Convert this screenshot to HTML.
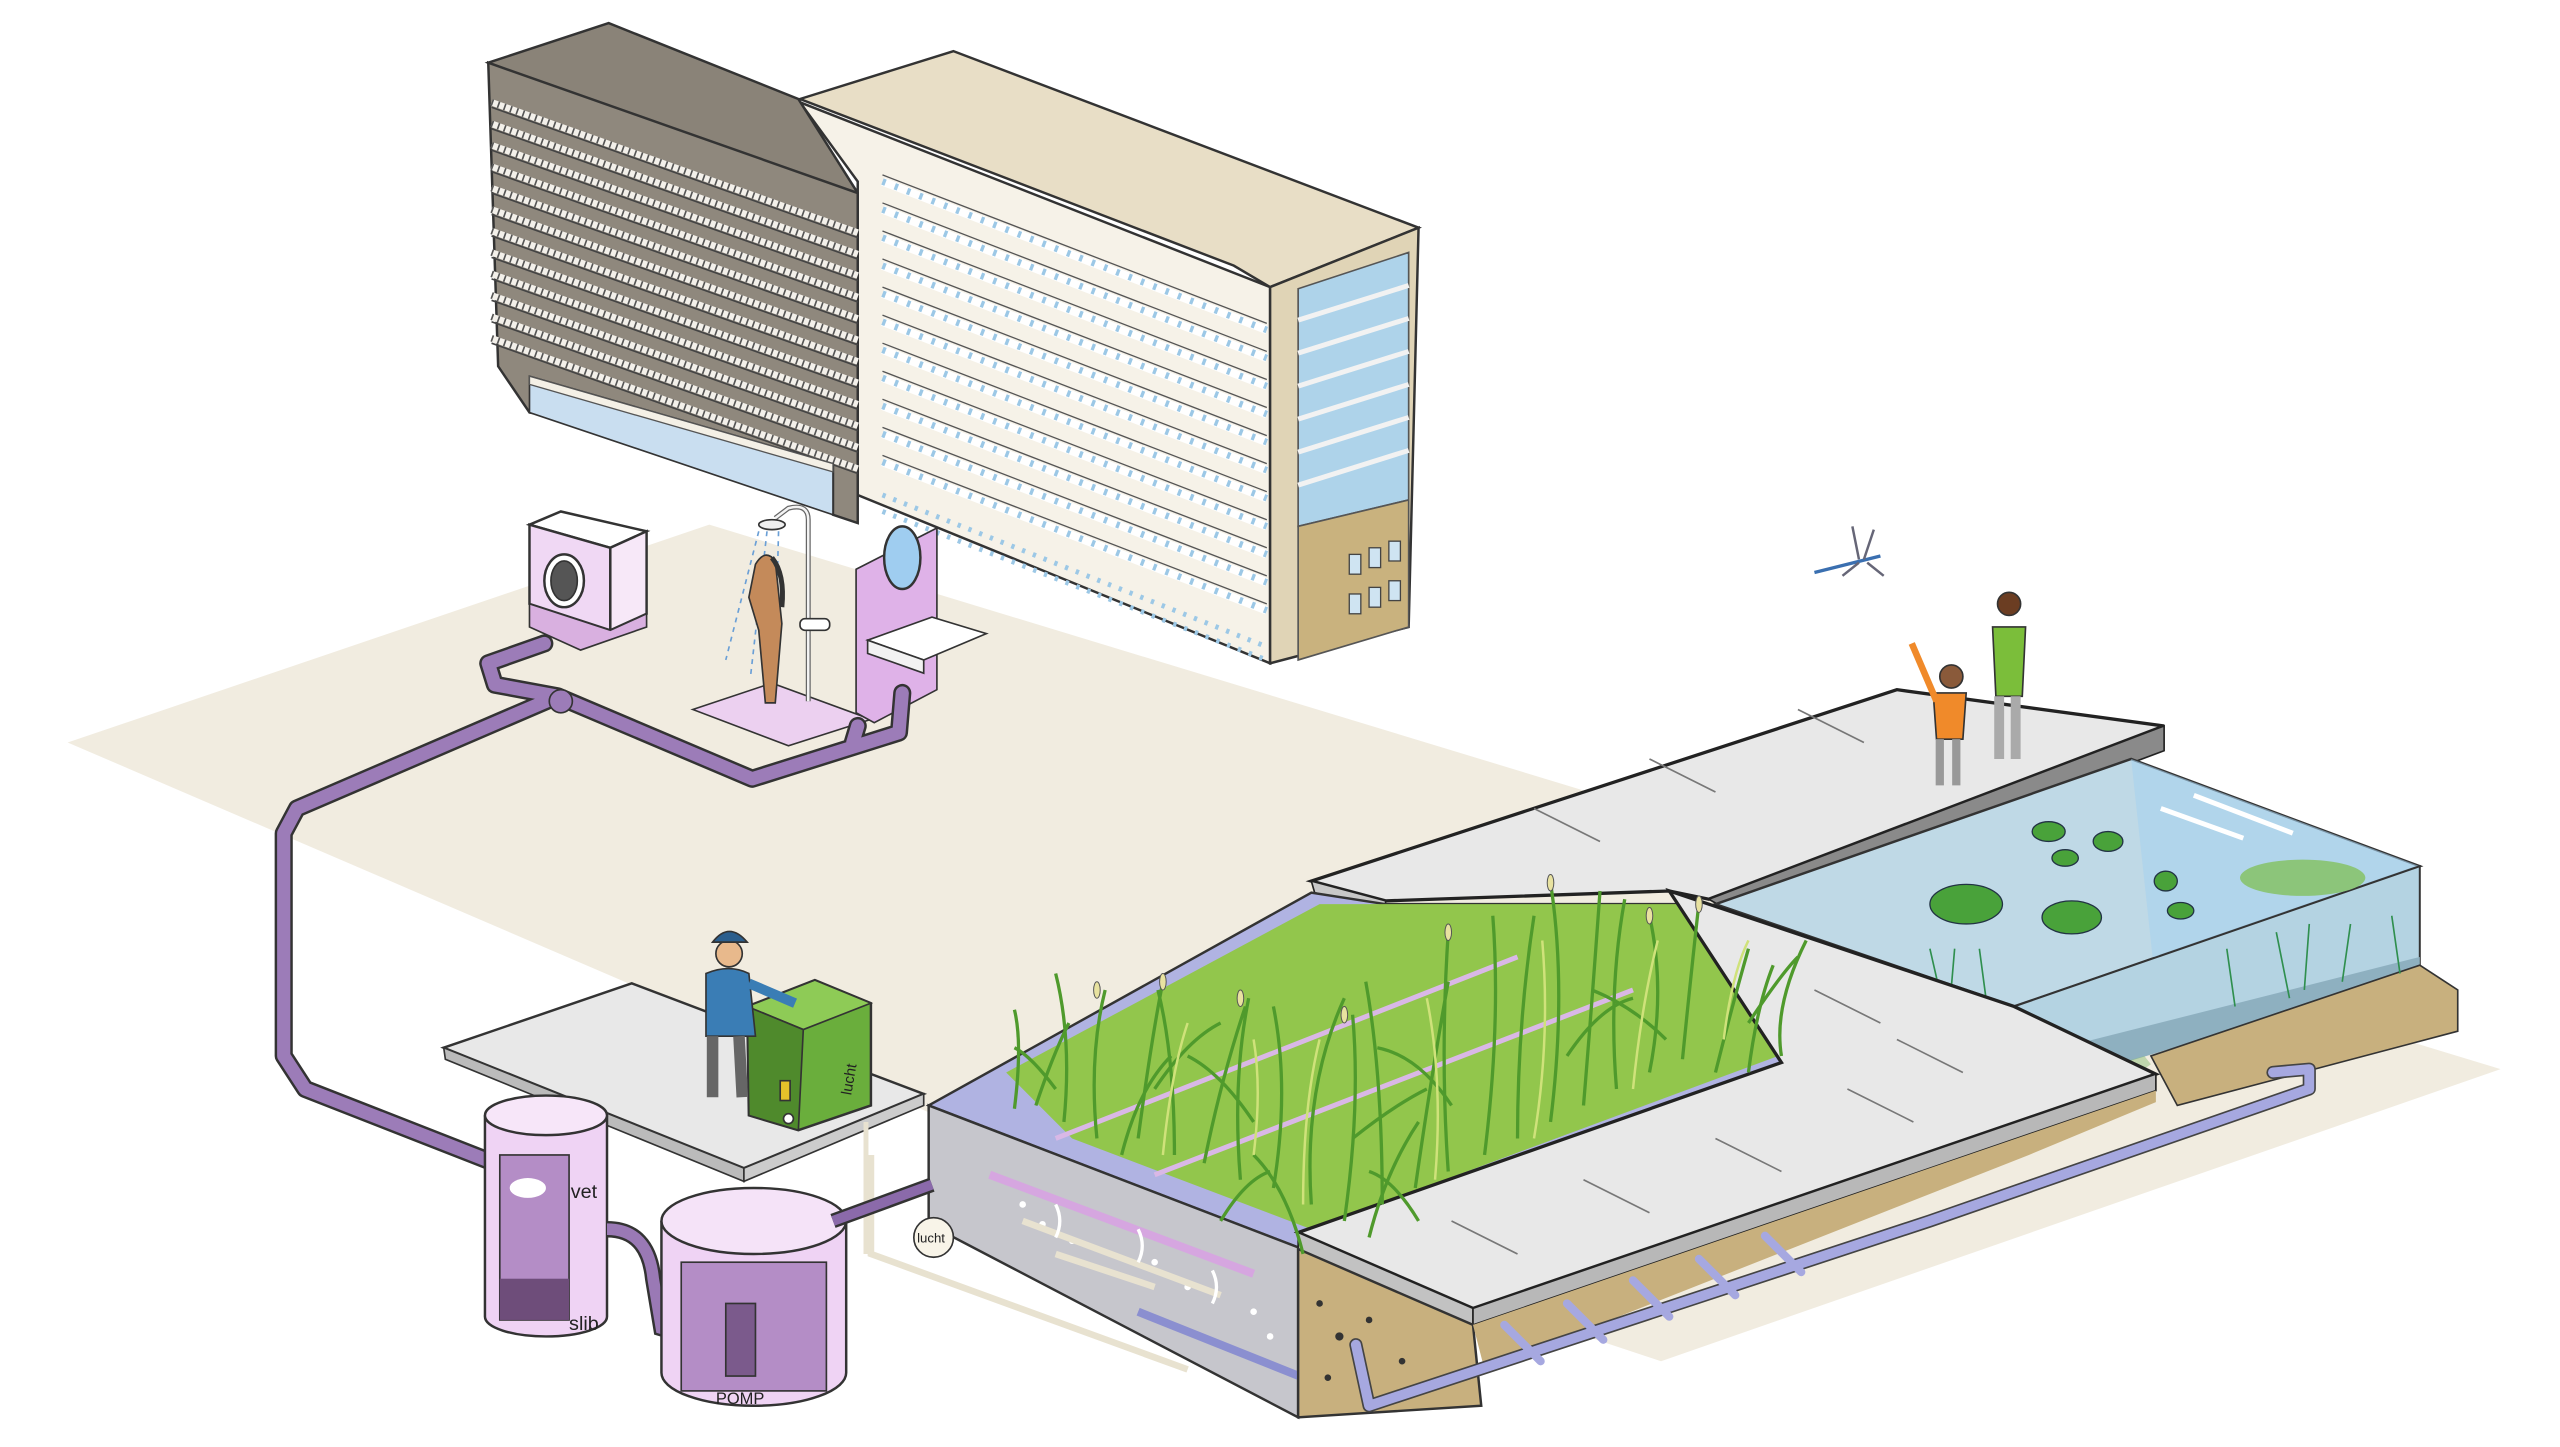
<!DOCTYPE html>
<html><head><meta charset="utf-8"><style>html,body{margin:0;padding:0;background:#fff}svg{display:block}</style></head>
<body>
<svg width="2560" height="1447" viewBox="0 0 1552 877" preserveAspectRatio="none" xmlns="http://www.w3.org/2000/svg" xmlns:xlink="http://www.w3.org/1999/xlink" font-family="Liberation Sans, sans-serif">
<defs>
<g id="drow"><line x1="298" y1="0" x2="520" y2="79" stroke="#f3f0ea" stroke-width="4"/><line x1="298" y1="0" x2="520" y2="79" stroke="#555" stroke-width="4" stroke-dasharray="1 3"/><line x1="298" y1="3" x2="520" y2="82" stroke="#444" stroke-width="1"/></g>
<g id="trow"><line x1="535" y1="0" x2="768" y2="90" stroke="#fff" stroke-width="5"/><line x1="535" y1="0" x2="768" y2="90" stroke="#9cc8e6" stroke-width="4" stroke-dasharray="2 6"/><line x1="535" y1="-4" x2="768" y2="86" stroke="#555" stroke-width="0.8"/></g>
</defs>
<rect width="1552" height="877" fill="#fff"/>
<polygon points="41,450 430,318 1516,648 1007,825 600,690" fill="#f1ece0"/>
<!-- tan building -->
<polygon points="485,60 578,31 860,138 770,174 748,161" fill="#e8dec6" stroke="#333" stroke-width="1.5"/>
<polygon points="485,62 770,174 770,402 520,300 520,110" fill="#f6f2e8" stroke="#333" stroke-width="1.5"/>
<use xlink:href="#trow" y="110"/><use xlink:href="#trow" y="127"/><use xlink:href="#trow" y="144"/><use xlink:href="#trow" y="161"/><use xlink:href="#trow" y="178"/><use xlink:href="#trow" y="195"/><use xlink:href="#trow" y="212"/><use xlink:href="#trow" y="229"/><use xlink:href="#trow" y="246"/><use xlink:href="#trow" y="263"/><use xlink:href="#trow" y="280"/>
<g stroke="#9cc8e6" stroke-width="3" stroke-dasharray="2 5"><line x1="535" y1="300" x2="768" y2="392"/><line x1="535" y1="310" x2="768" y2="400"/></g>
<polygon points="770,174 860,138 854,380 770,402" fill="#e0d4b6" stroke="#333" stroke-width="1.5"/>
<polygon points="787,175 854,153 854,303 787,319" fill="#aed3ea" stroke="#555"/>
<g stroke="#f2f2f2" stroke-width="3"><line x1="787" y1="194" x2="854" y2="173"/><line x1="787" y1="214" x2="854" y2="193"/><line x1="787" y1="234" x2="854" y2="213"/><line x1="787" y1="254" x2="854" y2="233"/><line x1="787" y1="274" x2="854" y2="253"/><line x1="787" y1="294" x2="854" y2="273"/></g>
<polygon points="787,319 854,303 854,380 787,400" fill="#c9b27e" stroke="#555"/>
<g fill="#cfe4f2" stroke="#444" stroke-width=".8"><rect x="818" y="336" width="7" height="12"/><rect x="830" y="332" width="7" height="12"/><rect x="842" y="328" width="7" height="12"/><rect x="818" y="360" width="7" height="12"/><rect x="830" y="356" width="7" height="12"/><rect x="842" y="352" width="7" height="12"/></g>
<!-- dark building -->
<polygon points="296,38 369,14 484,60 520,117 520,125" fill="#8a8378" stroke="#333" stroke-width="1.5"/>
<polygon points="296,38 520,117 520,317 505,312 505,281 321,250 302,222" fill="#8f887d" stroke="#333" stroke-width="1.5"/>
<use xlink:href="#drow" y="62"/><use xlink:href="#drow" y="75"/><use xlink:href="#drow" y="88"/><use xlink:href="#drow" y="101"/><use xlink:href="#drow" y="114"/><use xlink:href="#drow" y="127"/><use xlink:href="#drow" y="140"/><use xlink:href="#drow" y="153"/><use xlink:href="#drow" y="166"/><use xlink:href="#drow" y="179"/><use xlink:href="#drow" y="192"/><use xlink:href="#drow" y="205"/>
<polygon points="321,228 505,281 505,312 321,250" fill="#c9def0" stroke="#333"/>
<polygon points="321,228 505,281 505,286 321,233" fill="#f4f0e6" stroke="#555" stroke-width=".8"/>
<!-- washing machine -->
<polygon points="321,318 340,310 392,322 370,332" fill="#fff" stroke="#333" stroke-width="1.5"/>
<polygon points="321,318 370,332 370,382 321,366" fill="#f0d8f4" stroke="#333" stroke-width="1.5"/>
<polygon points="370,332 392,322 392,372 370,382" fill="#f7e8f8" stroke="#333" stroke-width="1.5"/>
<polygon points="321,366 370,382 392,372 392,380 352,394 321,380" fill="#d9b0e0" stroke="#333"/>
<ellipse cx="342" cy="352" rx="12" ry="16" fill="#fff" stroke="#333" stroke-width="1.5"/>
<ellipse cx="342" cy="352" rx="8" ry="12" fill="#555" stroke="#333"/>
<!-- shower -->
<polygon points="420,430 468,414 528,436 478,452" fill="#ecd0f0" stroke="#333"/>
<path d="M490,425 V315 Q490,305 478,308 L470,314" stroke="#666" stroke-width="3" fill="none"/>
<path d="M490,425 V315 Q490,305 478,308 L470,314" stroke="#f4f4f4" stroke-width="1.5" fill="none"/>
<ellipse cx="468" cy="318" rx="8" ry="3" fill="#eee" stroke="#333"/>
<path d="M460,322 L440,400 M465,322 L455,410 M472,322 L470,400" stroke="#6a9fd6" stroke-width="1" stroke-dasharray="3 3"/>
<path d="M458,342 q6,-10 12,-2 l4,38 l-4,48 h-6 l-4,-44 l-6,-20 z" fill="#c48a5a" stroke="#333"/>
<path d="M468,338 q8,10 6,30" stroke="#333" stroke-width="3" fill="none"/>
<rect x="485" y="375" width="18" height="7" rx="3" fill="#fff" stroke="#333"/>
<polygon points="519,345 568,320 568,418 530,438 519,432" fill="#dfb2e8" stroke="#333"/>
<ellipse cx="547" cy="338" rx="11" ry="19" fill="#9fcdf0" stroke="#333" stroke-width="1.5"/>
<polygon points="526,388 565,374 598,384 560,400" fill="#fff" stroke="#333"/>
<polygon points="526,388 560,400 560,408 526,396" fill="#f2f2f2" stroke="#333"/>
<!-- purple pipes -->
<g fill="none" stroke-linejoin="round" stroke-linecap="round">
<path d="M330,390 L296,402 L300,415 L338,422 L456,472 L545,444 L547,420 M338,422 L180,490 L172,505 L172,640 L185,660 L300,705 M517,450 L520,440" stroke="#333" stroke-width="11"/>
<path d="M330,390 L296,402 L300,415 L338,422 L456,472 L545,444 L547,420 M338,422 L180,490 L172,505 L172,640 L185,660 L300,705 M517,450 L520,440" stroke="#9c7cb8" stroke-width="8"/>
</g>
<circle cx="340" cy="425" r="7" fill="#9c7cb8" stroke="#333"/>
<!-- upper slab -->
<polygon points="795,534 1150,418 1312,440 1036,545 1012,540 840,546" fill="#e8e8e8" stroke="#222" stroke-width="2"/>
<polygon points="1036,545 1312,440 1312,455 1050,553" fill="#8a8a8a" stroke="#222"/>
<polygon points="795,534 840,546 840,553 797,541" fill="#c8c8c8" stroke="#222"/>
<g stroke="#777" stroke-width="1"><line x1="1000" y1="460" x2="1040" y2="480"/><line x1="1090" y1="430" x2="1130" y2="450"/><line x1="930" y1="490" x2="970" y2="510"/></g>
<!-- pond -->
<polygon points="1040,548 1292,460 1467,525 1221,610" fill="#bfd9e6" stroke="#333" stroke-width="1.5"/>
<polygon points="1292,460 1467,525 1467,605 1305,580" fill="#a9d2ef" opacity=".6"/>
<polygon points="1221,610 1467,525 1467,585 1230,660" fill="#b4d3e2" stroke="#333" stroke-width="1.2"/>
<polygon points="1230,640 1467,580 1467,590 1235,660" fill="#8eb0c0"/>
<polygon points="1230,660 1300,640 1304,645 1240,690" fill="#8ec07a" opacity=".5"/>
<polygon points="1304,640 1467,585 1490,600 1490,625 1320,670" fill="#c8b07e" stroke="#333"/>
<g stroke="#fff" stroke-width="3"><line x1="1330" y1="482" x2="1390" y2="505"/><line x1="1310" y1="490" x2="1360" y2="508"/></g>
<g fill="#49a23a" stroke="#234" stroke-width=".8"><ellipse cx="1242" cy="504" rx="10" ry="6"/><ellipse cx="1278" cy="510" rx="9" ry="6"/><ellipse cx="1252" cy="520" rx="8" ry="5"/><ellipse cx="1313" cy="534" rx="7" ry="6"/><ellipse cx="1322" cy="552" rx="8" ry="5"/><ellipse cx="1192" cy="548" rx="22" ry="12"/><ellipse cx="1256" cy="556" rx="18" ry="10"/><ellipse cx="1396" cy="532" rx="38" ry="11" fill="#8cc57a" stroke="none"/></g>
<g stroke="#2f8f4e" stroke-width="1"><path d="M1170,575 l8,35 M1185,575 l-3,35 M1200,575 l4,30 M1350,575 l5,35 M1380,565 l8,40 M1400,560 l-3,40 M1425,560 l-5,35 M1450,555 l5,35"/></g>
<!-- wetland bed -->
<polygon points="563,670 795,541 840,548 1036,548 1080,644 787,756" fill="#b0b3e2" stroke="#333" stroke-width="1.5"/>
<polygon points="610,650 800,548 1030,548 1078,640 795,745 650,690" fill="#92c64c"/>
<g stroke="#d9b8e6" stroke-width="3"><line x1="640" y1="690" x2="920" y2="580"/><line x1="700" y1="712" x2="990" y2="600"/></g>
<polygon points="563,670 787,756 787,859 563,742" fill="#c6c6cc" stroke="#333" stroke-width="1.5"/>
<g fill="#fff"><circle cx="620" cy="730" r="2"/><circle cx="632" cy="742" r="2"/><circle cx="650" cy="752" r="2"/><circle cx="700" cy="765" r="2"/><circle cx="720" cy="780" r="2"/><circle cx="760" cy="795" r="2"/><circle cx="770" cy="810" r="2"/></g>
<path d="M600,712 L760,772" stroke="#d6a6e0" stroke-width="5"/>
<path d="M690,795 L790,835" stroke="#8b8fd0" stroke-width="5"/>
<path d="M620,740 L740,785 M640,760 L700,780" stroke="#e8e2d0" stroke-width="4"/>
<path d="M528,700 L528,760 L720,830" stroke="#e8e2d0" stroke-width="4" fill="none"/>
<g stroke="#fff" stroke-width="2" fill="none"><path d="M640,730 q5,10 0,20 M690,745 q5,10 0,20 M735,770 q5,10 0,20"/></g>
<!-- lower slab -->
<polygon points="1012,540 1036,548 1221,610 1307,651 893,793 787,747 1080,644" fill="#e8e8e8" stroke="#222" stroke-width="2"/>
<polygon points="787,747 893,793 893,803 787,757" fill="#c2c2c2" stroke="#222"/>
<polygon points="893,793 1307,651 1307,661 893,803" fill="#b8b8b8" stroke="#222"/>
<g stroke="#777" stroke-width="1"><line x1="880" y1="740" x2="920" y2="760"/><line x1="960" y1="715" x2="1000" y2="735"/><line x1="1040" y1="690" x2="1080" y2="710"/><line x1="1120" y1="660" x2="1160" y2="680"/><line x1="1100" y1="600" x2="1140" y2="620"/><line x1="1150" y1="630" x2="1190" y2="650"/></g>
<!-- soil -->
<polygon points="787,757 893,803 898,852 787,859" fill="#c8b07e" stroke="#333" stroke-width="1.5"/>
<polygon points="893,803 1307,661 1307,668 1230,700 900,830" fill="#c8b07e"/>
<g fill="#333"><circle cx="800" cy="790" r="2"/><circle cx="812" cy="810" r="2.5"/><circle cx="830" cy="800" r="2"/><circle cx="805" cy="835" r="2"/><circle cx="850" cy="825" r="2"/><circle cx="870" cy="840" r="2.5"/></g>
<!-- bottom pipe -->
<g fill="none" stroke-linejoin="round" stroke-linecap="round">
<path d="M822,815 L830,852 L1170,740 L1400,660 L1400,648 L1378,650" stroke="#444" stroke-width="8"/>
<path d="M822,815 L830,852 L1170,740 L1400,660 L1400,648 L1378,650" stroke="#a6a8e0" stroke-width="6"/>
<g stroke="#a6a8e0" stroke-width="5"><path d="M912,803 l22,22 M950,790 l22,22 M990,776 l22,22 M1030,763 l22,22 M1070,749 l22,22"/></g>
</g>
<!-- plants -->
<g stroke="#4f9a2c" stroke-width="2" fill="none">
<path d="M615,672 q5,-40 0,-60 M628,670 q10,-30 20,-50 M645,680 q5,-50 -5,-90 M665,690 q-5,-50 5,-90 M690,690 q8,-60 15,-95 M712,700 q0,-60 -10,-100 M730,705 q10,-50 25,-95 M752,715 q-5,-60 5,-110 M772,720 q10,-60 0,-110 M795,730 q-5,-70 20,-125 M815,740 q10,-70 5,-125 M838,730 q0,-80 -10,-135 M858,720 q10,-70 20,-125 M878,710 q-5,-70 0,-145 M900,700 q10,-80 5,-145 M920,690 q0,-70 10,-135 M940,680 q10,-80 0,-145 M960,670 q5,-60 10,-130 M980,660 q-5,-60 5,-115 M1000,650 q10,-50 0,-95 M1020,642 q5,-50 10,-95 M1040,650 q10,-40 20,-75 M1060,650 q5,-40 15,-65 M1080,640 q-5,-30 15,-70"/>
<path d="M700,660 q20,-30 40,-40 M760,680 q-20,-30 -40,-40 M820,690 q25,-20 45,-30 M880,670 q-20,-30 -45,-35 M950,640 q20,-30 40,-35 M1010,630 q-20,-20 -45,-30 M1060,620 q20,-30 30,-40 M640,660 q-15,-20 -25,-25 M740,740 q15,-25 30,-30 M860,740 q-15,-25 -30,-30 M680,700 q10,-40 30,-60 M790,760 q-10,-40 -30,-60 M830,750 q10,-40 30,-70"/>
</g>
<g stroke="#cfe27a" stroke-width="1.5" fill="none"><path d="M705,700 q5,-50 15,-80 M790,730 q0,-60 10,-100 M870,715 q5,-60 -5,-110 M930,690 q10,-60 5,-120 M990,660 q5,-50 15,-90 M760,700 q5,-40 0,-70 M1045,630 q5,-40 15,-60"/></g>
<g fill="#e8e2a0" stroke="#555" stroke-width=".6"><ellipse cx="665" cy="600" rx="2" ry="5"/><ellipse cx="705" cy="595" rx="2" ry="5"/><ellipse cx="752" cy="605" rx="2" ry="5"/><ellipse cx="815" cy="615" rx="2" ry="5"/><ellipse cx="878" cy="565" rx="2" ry="5"/><ellipse cx="940" cy="535" rx="2" ry="5"/><ellipse cx="1000" cy="555" rx="2" ry="5"/><ellipse cx="1030" cy="548" rx="2" ry="5"/></g>
<!-- machine table -->
<polygon points="269,635 383,596 560,663 451,708" fill="#e8e8e8" stroke="#333" stroke-width="1.5"/>
<polygon points="269,635 451,708 451,716 270,642" fill="#bbb" stroke="#333"/>
<polygon points="451,708 560,663 560,670 451,716" fill="#ccc" stroke="#333"/>
<line x1="525" y1="680" x2="525" y2="760" stroke="#e8e2d0" stroke-width="3"/>
<!-- green box -->
<polygon points="453,610 494,594 528,608 528,670 484,685 454,676" fill="#6aae3c" stroke="#333" stroke-width="1.5"/>
<polygon points="453,610 494,594 528,608 487,624" fill="#8ecb56" stroke="#333"/>
<polygon points="453,610 487,624 484,685 454,676" fill="#4f8a2c" stroke="#333"/>
<rect x="473" y="655" width="6" height="12" fill="#e5c12a" stroke="#333"/>
<circle cx="478" cy="678" r="3" fill="#fff" stroke="#333"/>
<text x="516" y="664" font-size="9" fill="#222" transform="rotate(-80 516 664)">lucht</text>
<!-- man -->
<circle cx="442" cy="578" r="8" fill="#e8b98c" stroke="#333"/>
<path d="M432,571 q10,-13 21,0 z" fill="#2b5e8d" stroke="#333"/>
<path d="M428,590 q14,-6 26,0 l4,38 h-30 z" fill="#3a7db5" stroke="#333"/>
<path d="M454,596 l28,12" stroke="#3a7db5" stroke-width="6"/>
<path d="M432,628 l0,37 M448,628 l2,37" stroke="#666" stroke-width="7"/>
<!-- tanks -->
<path d="M294,676 v122 a37,12 0 0 0 74,0 v-122" fill="#efd3f4" stroke="#333" stroke-width="1.5"/>
<ellipse cx="331" cy="676" rx="37" ry="12" fill="#f7e6f9" stroke="#333" stroke-width="1.5"/>
<rect x="303" y="700" width="42" height="100" fill="#b48dc6" stroke="#333"/>
<rect x="303" y="775" width="42" height="25" fill="#6e4d7a"/>
<ellipse cx="320" cy="720" rx="11" ry="6" fill="#fff"/>
<text x="346" y="726" font-size="12" fill="#222">vet</text>
<text x="345" y="806" font-size="12" fill="#222">slib</text>
<path d="M368,745 q25,0 28,30 l5,30 l10,3" stroke="#333" stroke-width="10" fill="none"/>
<path d="M368,745 q25,0 28,30 l5,30 l10,3" stroke="#9a79b5" stroke-width="7" fill="none"/>
<path d="M401,740 v92 a56,20 0 0 0 112,0 v-92" fill="#efd3f4" stroke="#333" stroke-width="1.5"/>
<ellipse cx="457" cy="740" rx="56" ry="20" fill="#f5e3f8" stroke="#333" stroke-width="1.5"/>
<rect x="413" y="765" width="88" height="78" fill="#b48dc6" stroke="#333"/>
<rect x="440" y="790" width="18" height="44" fill="#7b5a8c" stroke="#333"/>
<text x="434" y="851" font-size="10" fill="#222">POMP</text>
<path d="M505,740 L565,718" stroke="#333" stroke-width="9"/>
<path d="M505,740 L565,718" stroke="#8b6aaa" stroke-width="6"/>
<circle cx="566" cy="750" r="12" fill="#f8f4e8" stroke="#333"/>
<text x="556" y="753" font-size="8" fill="#222">lucht</text>
<!-- people -->
<circle cx="1218" cy="366" r="7" fill="#6b3d22" stroke="#333"/>
<path d="M1208,380 h20 l-2,42 h-16 z" fill="#7bbe3a" stroke="#333"/>
<path d="M1212,422 v38 M1222,422 v38" stroke="#aaa" stroke-width="6"/>
<circle cx="1183" cy="410" r="7" fill="#8a5a3a" stroke="#333"/>
<path d="M1172,420 h20 l-2,28 h-16 z" fill="#f08a2a" stroke="#333"/>
<path d="M1174,425 l-15,-35" stroke="#f08a2a" stroke-width="4"/>
<path d="M1176,448 v28 M1186,448 v28" stroke="#999" stroke-width="5"/>
<!-- dragonfly -->
<path d="M1100,347 L1140,337" stroke="#3a6fb0" stroke-width="2"/>
<path d="M1127,339 l-4,-20 M1130,339 l6,-18 M1127,341 l-10,8 M1132,341 l10,8" stroke="#667" stroke-width="1.5"/>
</svg>
</body></html>
